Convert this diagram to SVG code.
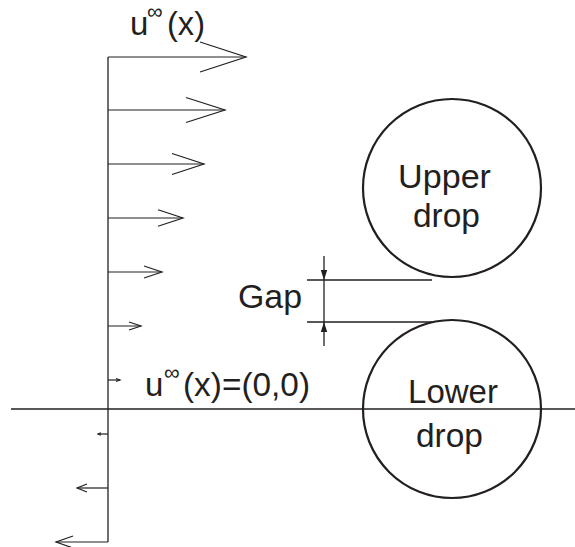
<svg xmlns="http://www.w3.org/2000/svg" width="575" height="547" viewBox="0 0 575 547">
<style>
.ln{stroke:#231f20;stroke-width:1.3;fill:none}
.ar{stroke:#231f20;stroke-width:1.2;fill:none;stroke-linejoin:miter}
.dr{stroke:#231f20;stroke-width:2.2;fill:none}
.t{font-family:"Liberation Sans",Arial,sans-serif;font-size:33px;fill:#231f20}
.s{font-family:"Liberation Sans",Arial,sans-serif;font-size:22px;fill:#231f20}
.hd{fill:#231f20;stroke:none}
</style>
<rect width="575" height="547" fill="#fff"/>
<g id="axes">
<line class="ln" x1="11" y1="409" x2="575" y2="409"/>
<line class="ln" x1="108" y1="57" x2="108" y2="542"/>
</g>
<g id="connectors">
<line class="ar" x1="108" y1="57" x2="246" y2="57"/><polyline class="ar" points="200,42 246,57 200,72"/>
<line class="ar" x1="108" y1="110" x2="225" y2="110"/><polyline class="ar" points="186,97.5 225,110 186,122.5"/>
<line class="ar" x1="108" y1="164" x2="204" y2="164"/><polyline class="ar" points="172,153.5 204,164 172,174.5"/>
<line class="ar" x1="108" y1="218" x2="183" y2="218"/><polyline class="ar" points="158,209.7 183,218 158,226.3"/>
<line class="ar" x1="108" y1="272" x2="162" y2="272"/><polyline class="ar" points="144,266 162,272 144,278"/>
<line class="ar" x1="108" y1="326" x2="141" y2="326"/><polyline class="ar" points="129,322 141,326 129,330"/>
<line class="ar" x1="108" y1="380" x2="120" y2="380"/><polyline class="ar" points="116,378.5 120,380 116,381.5"/>
<line class="ar" x1="108" y1="434" x2="98" y2="434"/><polyline class="ar" points="101,432.8 98,434 101,435.2"/>
<line class="ar" x1="108" y1="488" x2="77" y2="488"/><polyline class="ar" points="87,484 77,488 87,492"/>
<line class="ar" x1="108" y1="542" x2="56" y2="542"/><polyline class="ar" points="73,536 56,542 73,548"/>
</g>
<g id="gap">
<line class="ln" x1="307" y1="280" x2="432" y2="280"/>
<line class="ln" x1="307" y1="322" x2="432" y2="322"/>
<line class="ln" x1="324" y1="256" x2="324" y2="346"/>
<polygon class="hd" points="324,280 320.8,270 327.2,270"/>
<polygon class="hd" points="324,322 320.8,332 327.2,332"/>
<text class="t" x="238" y="308" textLength="64" lengthAdjust="spacingAndGlyphs">Gap</text>
</g>
<g id="upper-drop">
<circle class="dr" cx="452" cy="188" r="89"/>
<text class="t" x="398" y="188" textLength="93" lengthAdjust="spacingAndGlyphs">Upper</text>
<text class="t" x="413" y="227" textLength="67" lengthAdjust="spacingAndGlyphs">drop</text>
</g>
<g id="lower-drop">
<circle class="dr" cx="452" cy="409" r="89"/>
<text class="t" x="408" y="403" textLength="90" lengthAdjust="spacingAndGlyphs">Lower</text>
<text class="t" x="416" y="447" textLength="67" lengthAdjust="spacingAndGlyphs">drop</text>
</g>
<g id="label-top">
<text class="t" x="130" y="35">u</text>
<text class="s" x="147" y="19">∞</text>
<text class="t" x="167" y="35" textLength="38" lengthAdjust="spacingAndGlyphs">(x)</text>
</g>
<g id="label-zero">
<text class="t" x="145" y="396">u</text>
<text class="s" x="164" y="380">∞</text>
<text class="t" x="183" y="396" textLength="127" lengthAdjust="spacingAndGlyphs">(x)=(0,0)</text>
</g>
</svg>
